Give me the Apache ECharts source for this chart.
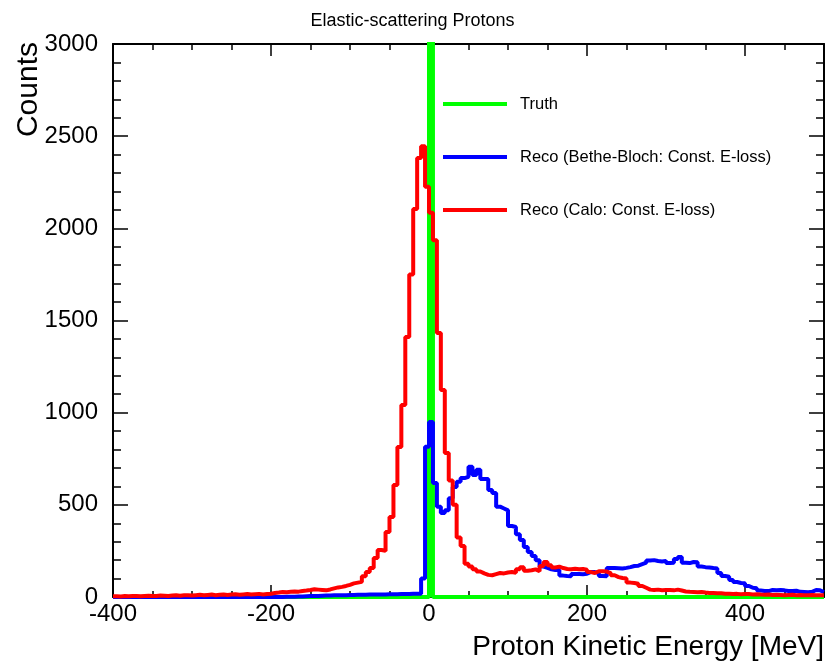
<!DOCTYPE html>
<html>
<head>
<meta charset="utf-8">
<script src="https://cdn.jsdelivr.net/npm/echarts@6/dist/echarts.min.js"></script>
<style>
  html, body { margin: 0; padding: 0; background: #fff; }
  #chart { width: 825px; height: 670px; }
</style>
</head>
<body>
<div id="chart"></div>
<script>
// histogram binning: 180 bins of 5 MeV from -400 to 500
var binLow = -400
var binWidth = 5

// Truth: everything sits in the [0,5) bin (clipped above 3000)
var truthCounts = []
for (var i = 0; i < 180; i++) truthCounts.push(0)
truthCounts[80] = 20000

// Reco (Bethe-Bloch: Const. E-loss), 20 bins per row = 100 MeV
var blueCounts = [
  0, 0, 0, 0, 0, 0, 0, 0, 0, 0, 0, 0, 0, 0, 0, 0, 0, 0, 0, 0,
  0, 0, 0, 0, 0, 0, 0, 0, 0, 0, 0, 0, 0, 0, 0, 0, 0, 0, 0, 0,
  0, 0, 0, 1, 1, 2, 3, 3, 4, 5, 6, 6, 7, 8, 8, 9, 9, 10, 10, 11,
  11, 12, 12, 12, 13, 13, 14, 14, 14, 15, 15, 15, 16, 16, 16, 17, 17, 18, 100, 815,
  950, 618, 490, 456, 470, 536, 597, 625, 645, 652, 706, 662, 690, 640, 640, 580, 564, 490, 480, 470,
  385, 380, 340, 309, 271, 244, 222, 200, 165, 158, 150, 146, 146, 116, 114, 113, 125, 125, 124, 126,
  136, 135, 130, 114, 113, 157, 157, 156, 155, 158, 162, 168, 170, 178, 186, 198, 200, 195, 193, 196,
  184, 186, 206, 217, 186, 184, 190, 188, 165, 162, 160, 157, 155, 130, 114, 110, 92, 81, 76, 74,
  60, 50, 48, 35, 33, 32, 38, 37, 38, 36, 33, 32, 34, 28, 27, 26, 28, 38, 36, 27
]

// Reco (Calo: Const. E-loss)
var redCounts = [
  4, 3, 5, 4, 6, 5, 4, 6, 7, 5, 6, 8, 7, 6, 8, 9, 7, 9, 10, 8,
  10, 12, 9, 11, 13, 10, 12, 14, 11, 13, 15, 12, 14, 16, 13, 15, 17, 14, 16, 18,
  22, 24, 27, 26, 28, 30, 29, 33, 35, 38, 42, 40, 38, 36, 41, 47, 52, 55, 60, 66,
  74, 78, 82, 112, 136, 157, 212, 255, 250, 353, 434, 608, 814, 1042, 1411, 1750, 2105, 2382, 2445, 2225,
  2085, 1935, 1432, 1123, 781, 632, 500, 323, 276, 180, 165, 150, 138, 128, 120, 118, 124, 130, 128, 133,
  136, 132, 150, 162, 142, 145, 150, 140, 168, 190, 172, 160, 165, 157, 152, 150, 153, 150, 152, 148,
  135, 130, 140, 140, 138, 130, 118, 108, 103, 100, 78, 76, 72, 60, 50, 40, 38, 40, 37, 38,
  38, 36, 40, 35, 30, 28, 27, 26, 27, 24, 22, 22, 21, 20, 18, 17, 16, 17, 15, 16,
  16, 14, 15, 13, 12, 13, 11, 12, 11, 10, 11, 12, 10, 11, 10, 9, 11, 10, 9, 10
]

var seriesNames = ['Truth', 'Reco (Bethe-Bloch: Const. E-loss)', 'Reco (Calo: Const. E-loss)']
var seriesColors = ['#00ff00', '#0000ff', '#ff0000']

var FONT = '"Liberation Sans", Arial, Helvetica, sans-serif'

// step line from bin low edges, plus closing point at the upper edge
function toSteps(counts) {
  var pts = counts.map(function (v, i) { return [binLow + i * binWidth, v] })
  pts.push([binLow + counts.length * binWidth, counts[counts.length - 1]])
  return pts
}

function histSeries(idx, counts) {
  return {
    name: seriesNames[idx],
    type: 'line',
    step: 'end',
    symbol: 'none',
    clip: true,
    xAxisIndex: 0,
    yAxisIndex: 0,
    lineStyle: { color: seriesColors[idx], width: 4 },
    itemStyle: { color: seriesColors[idx] },
    data: toSteps(counts),
    z: 2 + idx
  }
}

function legendRow(idx, top) {
  return {
    data: [{ name: seriesNames[idx], icon: 'rect' }],
    left: 443,
    top: top,
    padding: 0,
    itemWidth: 64,
    itemHeight: 4,
    selectedMode: false,
    textStyle: { fontFamily: FONT, fontSize: 16.5, color: '#000', lineHeight: 20, padding: [0, 0, 0, 8] }
  }
}

var xBase = { type: 'value', min: -400, max: 500, splitLine: { show: false } }
var yBase = { type: 'value', min: 0, max: 3000, interval: 500, splitLine: { show: false } }
var axisBlack = { show: true, onZero: false, lineStyle: { color: '#000', width: 2 } }

var option = {
  animation: false,
  backgroundColor: '#fff',
  title: {
    text: 'Elastic-scattering Protons',
    left: 'center',
    top: 7,
    textStyle: { fontFamily: FONT, fontSize: 18, fontWeight: 'normal', color: '#000' }
  },
  // ROOT-style y title, top-aligned and rotated
  graphic: [{
    type: 'text',
    x: 14,
    y: 42,
    rotation: Math.PI / 2,
    style: { text: 'Counts', font: '30px ' + FONT, fill: '#000', align: 'right', verticalAlign: 'top' }
  }],
  legend: [legendRow(0, 94), legendRow(1, 147), legendRow(2, 200)],
  grid: { left: 113, right: 1, top: 44, bottom: 73, outerBoundsMode: 'none', containLabel: false },
  xAxis: [
    Object.assign({}, xBase, {
      position: 'bottom',
      interval: 200,
      name: 'Proton Kinetic Energy [MeV]',
      nameLocation: 'end',
      nameGap: 0,
      nameTextStyle: { fontFamily: FONT, fontSize: 28, color: '#000', align: 'right', verticalAlign: 'top', padding: [36, 0, 0, 0] },
      axisLine: axisBlack,
      axisTick: { inside: true, length: 12, lineStyle: { color: '#000', width: 1.5 } },
      axisLabel: { fontFamily: FONT, fontSize: 24, color: '#000', margin: 5, showMaxLabel: false }
    }),
    Object.assign({}, xBase, {
      position: 'bottom',
      interval: 50,
      axisLine: { show: false, onZero: false },
      axisTick: { inside: true, length: 6, lineStyle: { color: '#000', width: 1.5 } },
      axisLabel: { show: false }
    }),
    Object.assign({}, xBase, {
      position: 'top',
      interval: 200,
      axisLine: axisBlack,
      axisTick: { inside: true, length: 12, lineStyle: { color: '#000', width: 1.5 } },
      axisLabel: { show: false }
    }),
    Object.assign({}, xBase, {
      position: 'top',
      interval: 50,
      axisLine: { show: false, onZero: false },
      axisTick: { inside: true, length: 6, lineStyle: { color: '#000', width: 1.5 } },
      axisLabel: { show: false }
    })
  ],
  yAxis: [
    Object.assign({}, yBase, {
      position: 'left',
      axisLine: axisBlack,
      axisTick: { inside: true, length: 15, lineStyle: { color: '#000', width: 1.5 } },
      minorTick: { show: true, splitNumber: 5, length: 8, lineStyle: { color: '#000', width: 1.5 } },
      axisLabel: { fontFamily: FONT, fontSize: 24, color: '#000', margin: 15, formatter: function (v) { return String(v) } }
    }),
    Object.assign({}, yBase, {
      position: 'right',
      axisLine: axisBlack,
      axisTick: { inside: true, length: 15, lineStyle: { color: '#000', width: 1.5 } },
      minorTick: { show: true, splitNumber: 5, length: 8, lineStyle: { color: '#000', width: 1.5 } },
      axisLabel: { show: false }
    })
  ],
  series: [
    histSeries(0, truthCounts),
    histSeries(1, blueCounts),
    histSeries(2, redCounts)
  ]
}

var myChart = echarts.init(document.getElementById('chart'))
myChart.setOption(option)
</script>
</body>
</html>
